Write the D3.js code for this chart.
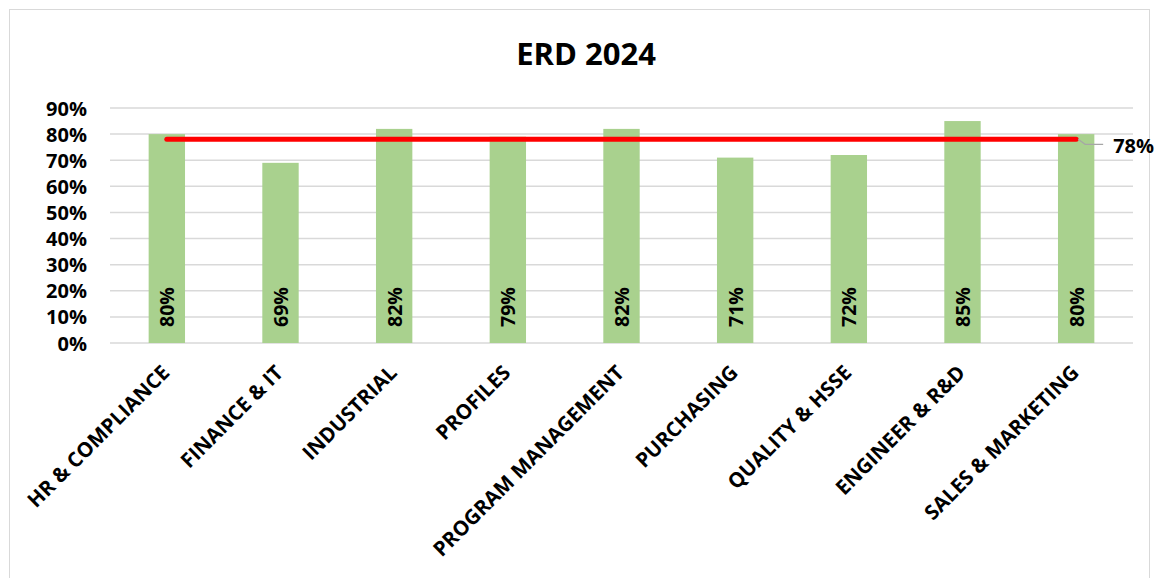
<!DOCTYPE html>
<html><head><meta charset="utf-8">
<script src="https://cdn.jsdelivr.net/npm/d3@7"></script>
<style>body{margin:0;background:#fff}svg{display:block}text{font-family:"Open Sans",sans-serif;font-weight:bold;fill:#000}</style>
</head><body>
<script>
const categories = ["HR & COMPLIANCE","FINANCE & IT","INDUSTRIAL","PROFILES","PROGRAM MANAGEMENT","PURCHASING","QUALITY & HSSE","ENGINEER & R&D","SALES & MARKETING"];
const values = [80,69,82,79,82,71,72,85,80];
const target = [78,78,78,78,78,78,78,78,78];
const yTicks = [0,10,20,30,40,50,60,70,80,90];
const title = "ERD 2024";

const W=1158,H=578;
const svg=d3.select("body").append("svg").attr("width",W).attr("height",H);
svg.append("rect").attr("x",9.5).attr("y",9.5).attr("width",1140).attr("height",H).attr("fill","#fff").attr("stroke","#D9D9D9");

const x=d3.scaleBand().domain(categories).range([110,1133]).paddingInner(0.68).paddingOuter(0.34);
const y=d3.scaleLinear().domain([0,90]).range([343,108]);

svg.append("text").attr("x",586).attr("y",65).attr("text-anchor","middle").attr("font-size",31).text(title);

svg.append("g").selectAll("line").data(yTicks).join("line")
 .attr("x1",110).attr("x2",1133).attr("y1",d=>y(d)).attr("y2",d=>y(d))
 .attr("stroke","#D9D9D9").attr("stroke-width",1.5);

svg.append("g").selectAll("text").data(yTicks).join("text")
 .attr("x",87).attr("y",d=>y(d)+7.5).attr("text-anchor","end").attr("font-size",20).text(d=>d+"%");

svg.append("g").selectAll("rect").data(values).join("rect")
 .attr("x",(d,i)=>x(categories[i])).attr("width",x.bandwidth())
 .attr("y",d=>y(d)).attr("height",d=>y(0)-y(d)).attr("fill","#A9D18E");

const cx=i=>x(categories[i])+x.bandwidth()/2;

svg.append("g").selectAll("text").data(values).join("text")
 .attr("transform",(d,i)=>`translate(${cx(i)+7.5},${y(0)-16}) rotate(-90)`)
 .attr("font-size",19.5).attr("text-anchor","start").text(d=>d+"%");

const line=d3.line().x((d,i)=>cx(i)).y(d=>y(d));
svg.append("path").datum(target).attr("d",line).attr("fill","none").attr("stroke","#FF0000").attr("stroke-width",5).attr("stroke-linecap","round");

const last=target.length-1;
const ly=y(target[last]);
svg.append("polyline").attr("points",`${cx(last)+2},${ly} ${cx(last)+9},${ly+5} ${cx(last)+27},${ly+5}`)
 .attr("fill","none").attr("stroke","#A6A6A6").attr("stroke-width",1.2);
svg.append("text").attr("x",cx(last)+37).attr("y",ly+13.5).attr("font-size",20).text(target[last]+"%");

svg.append("g").selectAll("text").data(categories).join("text")
 .attr("transform",(d,i)=>`translate(${cx(i)+4},${y(0)+31}) rotate(-45)`)
 .attr("text-anchor","end").attr("font-size",20.5).text(d=>d);
</script>
</body></html>
